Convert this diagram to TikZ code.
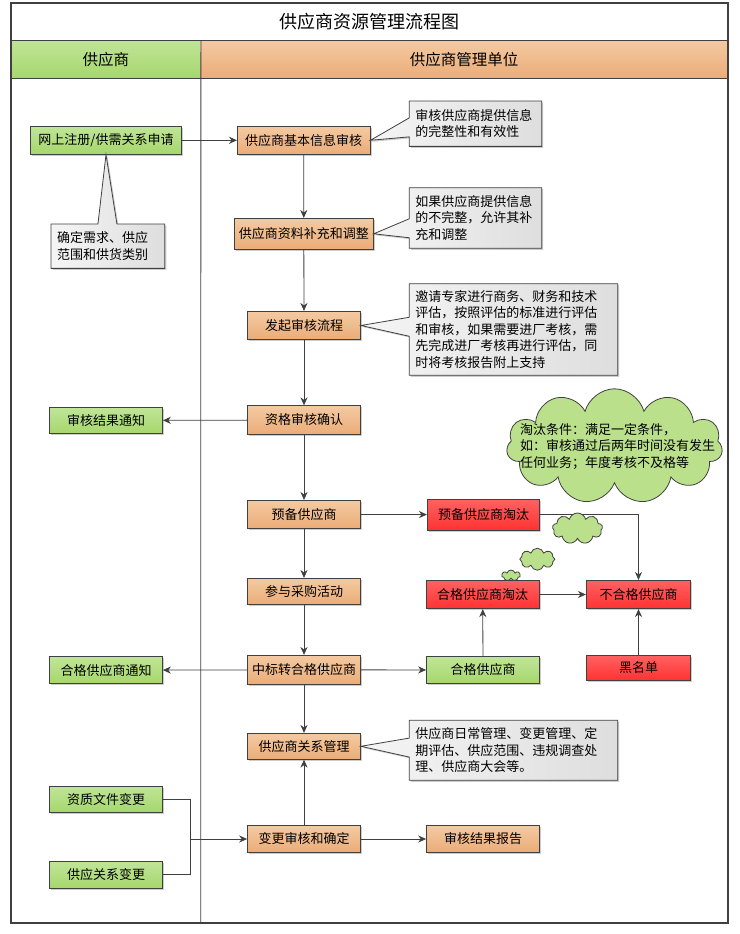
\documentclass[tikz,border=0pt]{standalone}
\usepackage{fontspec}
\setmainfont{Noto Sans CJK SC}
\usepackage{tikz}
\usetikzlibrary{arrows.meta, shapes.callouts, shapes.symbols, shadows}
\definecolor{linegray}{RGB}{64,64,64}
\definecolor{greentop}{RGB}{192,229,152}
\definecolor{greenbot}{RGB}{166,215,108}
\definecolor{orangetop}{RGB}{244,202,162}
\definecolor{orangebot}{RGB}{235,172,120}
\definecolor{redtop}{RGB}{255,98,98}
\definecolor{redbot}{RGB}{255,50,50}
\definecolor{notetop}{RGB}{245,245,245}
\definecolor{notebot}{RGB}{222,222,222}
\definecolor{puffgreen}{RGB}{186,224,140}
\tikzset{box/.style={draw=linegray, line width=0.8pt, minimum width=113pt, minimum height=27pt, inner sep=2pt, font=\fontsize{13}{16}\selectfont, drop shadow={shadow xshift=1.5pt, shadow yshift=-1.5pt, fill=black, opacity=0.2}}}
\tikzset{supplier/.style={box, top color=greentop, bottom color=greenbot}}
\tikzset{manager/.style={box, top color=orangetop, bottom color=orangebot}}
\tikzset{reject/.style={box, top color=redtop, bottom color=redbot}}
\tikzset{note/.style={rectangle callout, draw=linegray, line width=0.8pt, left color=notetop, right color=notebot, align=left, inner xsep=6pt, callout pointer width=19pt, font=\fontsize{13}{16.5}\selectfont, drop shadow={shadow xshift=1.5pt, shadow yshift=-1.5pt, fill=black, opacity=0.2}}}
\tikzset{puff/.style={cloud, cloud ignores aspect, inner sep=0pt, draw=linegray, line width=0.8pt, fill=puffgreen}}
\tikzset{flow/.style={draw=linegray, line width=0.8pt, -{Stealth[length=2.8mm, width=2.5mm]}}}
\tikzset{wire/.style={draw=linegray, line width=0.8pt}}

\begin{document}
\begin{tikzpicture}[x=1pt, y=-1pt]
            \useasboundingbox (0, 0) rectangle (739, 934);
            \node[minimum width=189.7pt, minimum height=38pt, top color=greentop, bottom color=greenbot, font=\fontsize{15.5}{18}\selectfont] (lane1) at (105.85, 59.3) {供应商};
            \node[minimum width=527pt, minimum height=38pt, top color=orangetop, bottom color=orangebot, font=\fontsize{15.5}{18}\selectfont] (lane2) at (464.2, 59.3) {供应商管理单位};
            \node[font=\fontsize{18}{20}\selectfont] (title) at (369.4, 21.7) {供应商资源管理流程图};
            \draw[linegray, line width=2.2pt] (11, 3) rectangle (727.7, 922.7);
            \draw[linegray, line width=0.8pt] (11, 40.3) -- (727.7, 40.3);
            \draw[linegray, line width=0.8pt] (11, 78.3) -- (727.7, 78.3);
            \draw[linegray, line width=0.8pt] (lane1.north east) -- (200.7, 922.7);
            \node[supplier, minimum width=151.4pt, minimum height=28pt] (reg) at (106, 140.3) {网上注册/供需关系申请};
            \node[manager, minimum width=132.7pt, minimum height=28pt] (basic) at (303.7, 140.3) {供应商基本信息审核};
            \node[manager, minimum width=139pt, minimum height=31pt] (supp) at (303.8, 233.8) {供应商资料补充和调整};
            \node[manager, minimum height=28.4pt] (start) at (304, 325.5) {发起审核流程};
            \node[manager, minimum height=28.6pt] (check) at (304, 420) {资格审核确认};
            \node[supplier, minimum height=26.4pt] (notice) at (106, 420.5) {审核结果通知};
            \node[manager, minimum height=28pt] (reserve) at (304, 514.3) {预备供应商};
            \node[reject, minimum width=112.4pt, minimum height=30.7pt] (resout) at (483.5, 514.7) {预备供应商淘汰};
            \node[manager, minimum height=26pt] (bid) at (304, 591.3) {参与采购活动};
            \node[manager, minimum height=29pt] (win) at (304, 669.8) {中标转合格供应商};
            \node[supplier] (qnotice) at (106, 670.2) {合格供应商通知};
            \node[supplier, minimum height=27.4pt] (qual) at (483, 670) {合格供应商};
            \node[reject, minimum height=28.4pt] (qualout) at (482.7, 594.5) {合格供应商淘汰};
            \node[reject, minimum width=104.4pt, minimum height=28.4pt] (unq) at (638.5, 594.5) {不合格供应商};
            \node[reject, minimum width=104.4pt, minimum height=25pt] (black) at (638.5, 667.8) {黑名单};
            \node[manager, minimum height=26pt] (rel) at (304, 746.3) {供应商关系管理};
            \node[supplier, minimum height=26pt] (docs) at (106, 799.3) {资质文件变更};
            \node[supplier] (link) at (106, 874.8) {供应关系变更};
            \node[manager, minimum height=26.6pt] (chg) at (304, 839) {变更审核和确定};
            \node[manager, minimum height=26.6pt] (report) at (483, 839) {审核结果报告};
            \node[note, text width=101.7pt, minimum height=44.3pt, callout absolute pointer={(reg.south)}] (n0) at (107.9, 246.2) {确定需求、供应\\范围和供货类别};
            \node[note, text width=120.4pt, minimum height=45.3pt, callout absolute pointer={(basic.east)}] (n1) at (475.5, 123.7) {审核供应商提供信息\\的完整性和有效性};
            \node[note, text width=120.4pt, minimum height=60.6pt, callout absolute pointer={(supp.east)}] (n2) at (475.5, 218) {如果供应商提供信息\\的不完整，允许其补\\充和调整};
            \node[note, text width=196.4pt, minimum height=91.6pt, callout absolute pointer={(start.east)}] (n3) at (513.5, 329.5) {邀请专家进行商务、财务和技术\\评估，按照评估的标准进行评估\\和审核，如果需要进厂考核，需\\先完成进厂考核再进行评估，同\\时将考核报告附上支持};
            \node[note, text width=196.4pt, minimum height=60pt, callout absolute pointer={(rel.east)}] (n4) at (513.5, 750.3) {供应商日常管理、变更管理、定\\期评估、供应范围、违规调查处\\理、供应商大会等。};
            \draw[flow] (reg) -- (basic);
            \foreach \from/\to in {basic/supp, supp/start, start/check, check/reserve, reserve/bid, bid/win, win/rel} {
                \draw[flow] (\from) -- (\to);
            }
            \draw[flow] (check) -- (notice);
            \draw[flow] (reserve) -- (resout);
            \draw[flow] (win) -- (qnotice);
            \draw[flow] (win) -- (qual);
            \draw[flow] (qual) -- (qualout);
            \draw[flow] (qualout) -- (unq);
            \draw[flow] (black) -- (unq);
            \draw[flow] (resout.east) -| (unq.north);
            \draw[flow] (chg) -- (rel);
            \draw[flow] (chg) -- (report);
            \coordinate (join) at (190.5, 839);
            \draw[wire] (docs.east) -| (join);
            \draw[wire] (link.east) -| (join);
            \draw[flow] (join) -- (chg);
            \node[puff, cloud puffs=11, minimum width=216pt, minimum height=115pt] (rule) at (614.5, 446.3) {};
            \node[align=left, font=\fontsize{13}{16.3}\selectfont] (ruletext) at ([xshift=3pt]rule.center) {淘汰条件：满足一定条件，\\如：审核通过后两年时间没有发生\\任何业务；年度考核不及格等};
            \node[puff, cloud puffs=9, minimum width=50pt, minimum height=31pt] (puff1) at (577.5, 528.5) {};
            \node[puff, cloud puffs=8, minimum width=35pt, minimum height=22pt] (puff2) at (537.3, 559.2) {};
            \node[puff, cloud puffs=7, minimum width=18.5pt, minimum height=11pt] (puff3) at (511, 575.5) {};
\end{tikzpicture}
\end{document}
